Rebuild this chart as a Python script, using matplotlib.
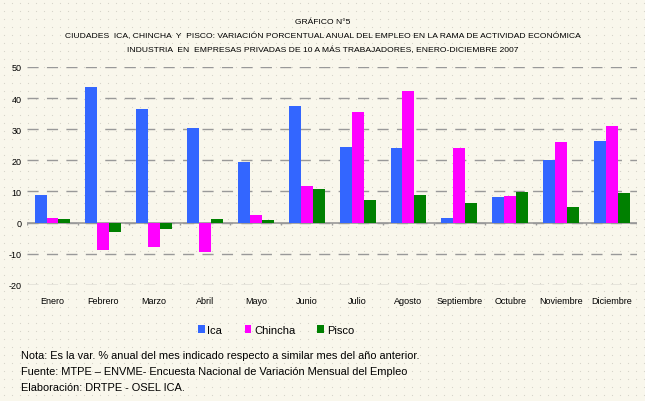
import matplotlib.pyplot as plt
import numpy as np

meses = ['Enero', 'Febrero', 'Marzo', 'Abril', 'Mayo', 'Junio', 'Julio',
         'Agosto', 'Septiembre', 'Octubre', 'Noviembre', 'Diciembre']
ica = [9.0, 43.4, 36.4, 30.3, 19.3, 37.3, 24.4, 23.8, 1.5, 8.3, 20.2, 26.1]
chincha = [1.5, -8.7, -7.7, -9.3, 2.3, 11.9, 35.4, 42.4, 24.0, 8.6, 26.0, 30.9]
pisco = [1.2, -3.1, -2.0, 1.2, 0.9, 10.9, 7.3, 8.7, 6.3, 9.9, 5.0, 9.6]

titulo = ['GRÁFICO N°5',
          'CIUDADES  ICA, CHINCHA  Y  PISCO: VARIACIÓN PORCENTUAL ANUAL DEL EMPLEO EN LA RAMA DE ACTIVIDAD ECONÓMICA',
          'INDUSTRIA  EN  EMPRESAS PRIVADAS DE 10 A MÁS TRABAJADORES, ENERO-DICIEMBRE 2007']
notas = ['Nota: Es la var. % anual del mes indicado respecto a similar mes del año anterior.',
         'Fuente: MTPE – ENVME- Encuesta Nacional de Variación Mensual del Empleo',
         'Elaboración: DRTPE - OSEL ICA.']

bg = '#f9f7ec'
plt.rcParams['font.family'] = ['Liberation Sans', 'DejaVu Sans']
plt.rcParams['axes.unicode_minus'] = False

fig = plt.figure(figsize=(6.45, 4.02), dpi=100)
fig.patch.set_facecolor(bg)

# dotted paper texture
bgax = fig.add_axes([0, 0, 1, 1], zorder=-5)
gx, gy = np.meshgrid(np.arange(4, 645, 8), np.arange(4, 402, 8))
bgax.scatter(gx.ravel(), gy.ravel(), s=0.7, c='#d5d3c8', linewidths=0)
bgax.set_xlim(0, 645)
bgax.set_ylim(402, 0)
bgax.axis('off')

ax = fig.add_axes([0.042, 0.289, 0.946, 0.542])
ax.set_facecolor('none')

x = np.arange(len(meses))
w = 0.235
ax.bar(x - w, ica, w, color='#3366ff', label='Ica', zorder=3)
ax.bar(x, chincha, w, color='#ff00ff', label='Chincha', zorder=3)
ax.bar(x + w, pisco, w, color='#008000', label='Pisco', zorder=3)

ax.set_xlim(-0.5, len(meses) - 0.5)
ax.set_ylim(-20, 50)
ax.set_yticks(range(-20, 51, 10))
ax.yaxis.grid(True, color='#999999', linestyle=(0, (8, 6)), linewidth=1, zorder=0)
for s in ax.spines.values():
    s.set_visible(False)

ax.axhline(0, color='#999999', linewidth=1.2, zorder=2)
ax.vlines(np.arange(len(meses) + 1) - 0.5, -0.9, 0, color='#999999', linewidth=1, zorder=2)

ax.set_xticks(x)
ax.set_xticklabels(meses, fontsize=6.5)
ax.tick_params(axis='x', length=0, pad=8)
ax.tick_params(axis='y', length=0, pad=4, labelsize=6.5)

for i, t in enumerate(titulo):
    fig.text(0.5, 1 - (22 + 14 * i) / 402, t, ha='center', va='center',
             fontsize=6.1)

ax.legend(loc='center', bbox_to_anchor=(0.408, -0.206), ncol=3, frameon=False,
          fontsize=8, handlelength=0.6, handleheight=0.8, handletextpad=0.25,
          columnspacing=2.0)

for i, t in enumerate(notas):
    fig.text(21 / 645, 1 - (356 + 16 * i) / 402, t, ha='left', va='center',
             fontsize=7.9)

fig.savefig('out.png', dpi=100, facecolor=bg)
